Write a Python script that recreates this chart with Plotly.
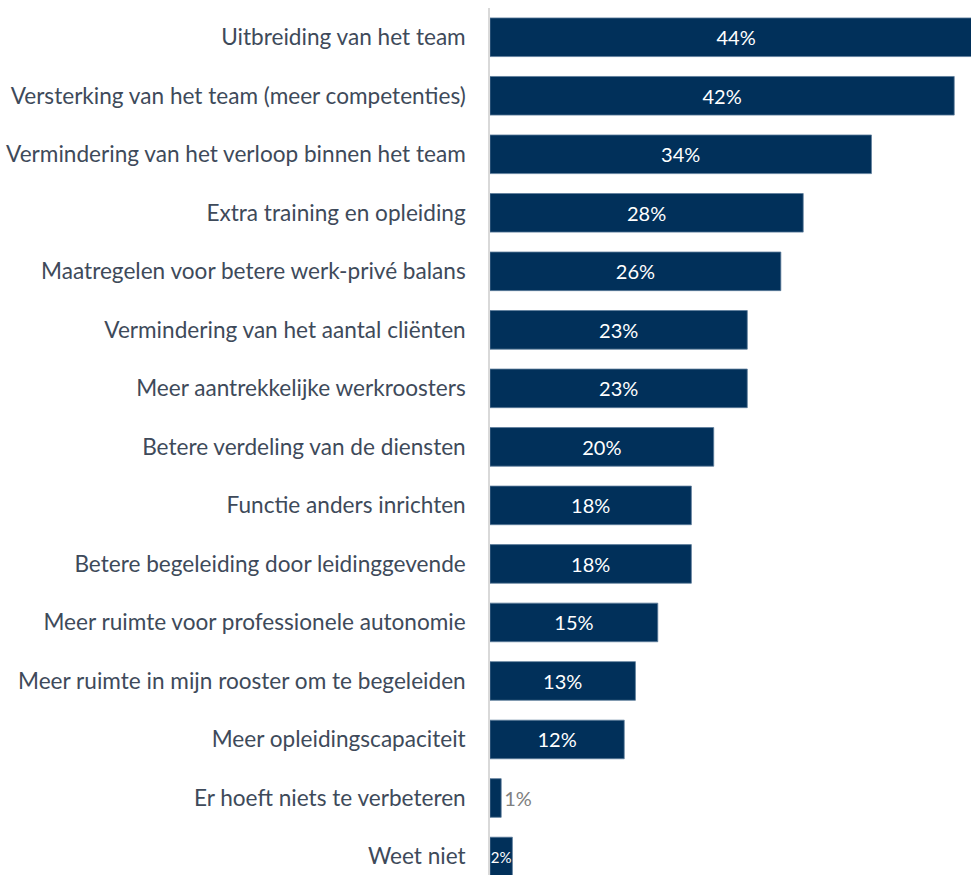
import plotly.graph_objects as go

categories = [
    "Uitbreiding van het team",
    "Versterking van het team (meer competenties)",
    "Vermindering van het verloop binnen het team",
    "Extra training en opleiding",
    "Maatregelen voor betere werk-privé balans",
    "Vermindering van het aantal cliënten",
    "Meer aantrekkelijke werkroosters",
    "Betere verdeling van de diensten",
    "Functie anders inrichten",
    "Betere begeleiding door leidinggevende",
    "Meer ruimte voor professionele autonomie",
    "Meer ruimte in mijn rooster om te begeleiden",
    "Meer opleidingscapaciteit",
    "Er hoeft niets te verbeteren",
    "Weet niet",
]
values = [44.0, 41.5, 34.1, 28.0, 26.0, 23.0, 23.0, 20.0, 18.0, 18.0, 15.0, 13.0, 12.0, 1.0, 2.0]
labels = ["44%", "42%", "34%", "28%", "26%", "23%", "23%", "20%", "18%", "18%", "15%", "13%", "12%", "1%", "2%"]

positions = ["outside" if l == "1%" else "inside" for l in labels]
text_colors = ["#808080" if l == "1%" else "white" for l in labels]
text_sizes = [15 if l == "2%" else 20 for l in labels]

fig = go.Figure(go.Bar(
    x=values,
    y=categories,
    orientation="h",
    text=labels,
    textposition=positions,
    insidetextanchor="middle",
    textangle=0,
    textfont=dict(family="Lato", color=text_colors, size=text_sizes),
    constraintext="none",
    cliponaxis=True,
    marker=dict(color="#01305A", line=dict(color="#5d7c9a", width=0.8)),
    width=0.66,
))

fig.update_layout(
    width=971,
    height=875,
    margin=dict(l=490, r=0, t=8, b=0),
    paper_bgcolor="white",
    plot_bgcolor="white",
    showlegend=False,
    xaxis=dict(range=[0, 43.0], visible=False, showgrid=False, zeroline=False),
    yaxis=dict(
        range=[14.316, -0.5],
        showline=True,
        linecolor="#d9d9d9",
        linewidth=1.5,
        showgrid=False,
        ticks="",
        ticklabelstandoff=18,
        tickfont=dict(family="Lato", size=22.6, color="#3e4a5a"),
    ),
    font=dict(family="Lato"),
)

fig.write_html(
    "out.html",
    config={"displayModeBar": False},
    post_script="document.body.style.margin='0';document.body.style.overflow='hidden';",
)
